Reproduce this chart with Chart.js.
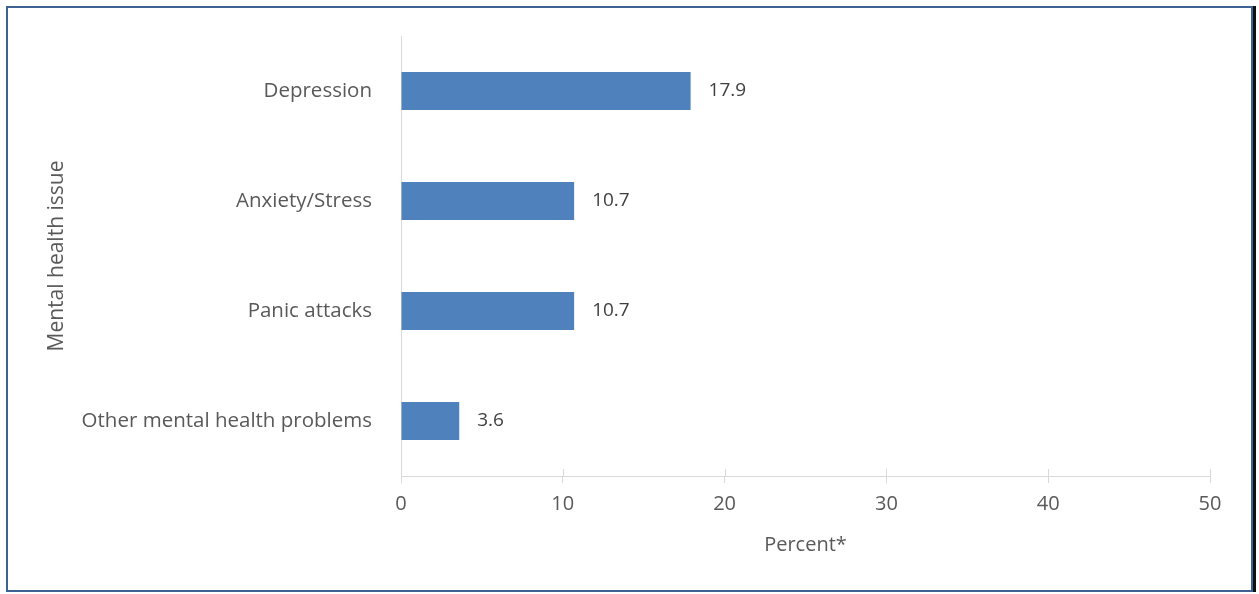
<!DOCTYPE html>
<html>
<head>
<meta charset="utf-8">
<script src="https://cdn.jsdelivr.net/npm/chart.js@4"></script>
<style>
  html, body { margin: 0; padding: 0; background: #fff; }
  #wrap { position: relative; width: 1259px; height: 594px; }
  #frame {
    position: absolute; left: 6px; top: 6px; width: 1243px; height: 582px;
    border: 2px solid #3d6293; box-shadow: 3px 0 0 #111; pointer-events: none;
  }
</style>
</head>
<body>
<div id="wrap">
  <canvas id="issueChart"></canvas>
  <div id="frame"></div>
</div>
<script>
const categories = ["Depression", "Anxiety/Stress", "Panic attacks", "Other mental health problems"];
const percents = [17.9, 10.7, 10.7, 3.6];
const xTicks = [0, 10, 20, 30, 40, 50];

const FONT = "'Open Sans', sans-serif";

// Value labels at the end of each bar
const barLabels = {
  id: "barLabels",
  afterDatasetsDraw(chart) {
    const ctx = chart.ctx;
    const meta = chart.getDatasetMeta(0);
    ctx.save();
    ctx.font = "19px " + FONT;
    ctx.fillStyle = "#404040";
    ctx.textAlign = "left";
    ctx.textBaseline = "middle";
    meta.data.forEach((bar, i) => {
      ctx.fillText(percents[i].toFixed(1), bar.x + 18, bar.y);
    });
    ctx.restore();
  }
};

// x tick marks also poke up above the axis line
const crossTicks = {
  id: "crossTicks",
  afterDraw(chart) {
    const ctx = chart.ctx;
    const xs = chart.scales.x;
    const y0 = chart.chartArea.bottom;
    ctx.save();
    ctx.strokeStyle = "#d9d9d9";
    ctx.lineWidth = 1;
    xTicks.forEach(v => {
      const px = Math.round(xs.getPixelForValue(v)) + 0.5;
      ctx.beginPath();
      ctx.moveTo(px, y0 - 7);
      ctx.lineTo(px, y0);
      ctx.stroke();
    });
    ctx.restore();
  }
};

const ctx = document.getElementById("issueChart").getContext("2d");

new Chart(ctx, {
  type: "bar",
  data: {
    labels: categories,
    datasets: [{
      data: percents,
      backgroundColor: "#4f81bd",
      borderWidth: 0,
      categoryPercentage: 1,
      barPercentage: 0.345
    }]
  },
  options: {
    indexAxis: "y",
    responsive: true,
    maintainAspectRatio: false,
    animation: false,
    layout: { padding: { top: 36, right: 49, left: 0, bottom: 0 } },
    plugins: {
      legend: { display: false },
      tooltip: { enabled: false }
    },
    scales: {
      x: {
        min: 0,
        max: 50,
        afterBuildTicks: scale => { scale.ticks = xTicks.map(v => ({ value: v })); },
        afterFit: scale => { scale.height = 118; },
        grid: { drawOnChartArea: false, color: "#d9d9d9", tickLength: 7 },
        border: { color: "#d9d9d9", width: 1 },
        ticks: { color: "#595959", font: { family: FONT, size: 20 }, padding: 9 },
        title: {
          display: true,
          text: "Percent*",
          color: "#595959",
          font: { family: FONT, size: 20 },
          padding: { top: 0, bottom: 37 }
        }
      },
      y: {
        afterFit: scale => {
          scale.width = 401;
          scale.paddingTop = 0;
          scale.paddingBottom = 0;
        },
        grid: { display: false },
        border: { color: "#d9d9d9", width: 1 },
        ticks: { color: "#595959", font: { family: FONT, size: 20.5 }, padding: 21 },
        title: {
          display: true,
          text: "Mental health issue",
          color: "#595959",
          font: { family: FONT, size: 21 },
          padding: { top: 44, bottom: 0 }
        }
      }
    }
  },
  plugins: [barLabels, crossTicks]
});
</script>
</body>
</html>
